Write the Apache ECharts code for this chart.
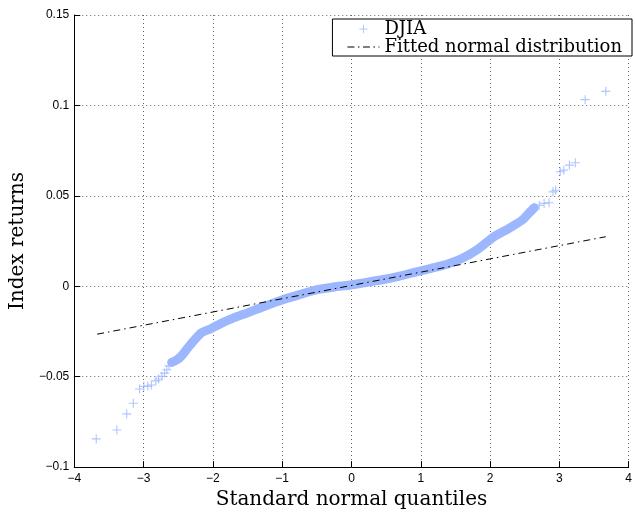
<!DOCTYPE html>
<html>
<head>
<meta charset="utf-8">
<script src="https://cdn.jsdelivr.net/npm/echarts@6/dist/echarts.min.js"></script>
<style>
  html, body { margin: 0; padding: 0; background: #fff; }
  #chart { width: 635px; height: 515px; }
</style>
</head>
<body>
<div id="chart"></div>
<script>
// 正态分位数 (x) 与 指数收益 (y)
const djiaQ = [
  -3.683, -3.385, -3.243, -3.148, -3.058, -2.996, -2.939, -2.888, -2.821,
  -2.783, -2.736, -2.697, -2.665, -2.632, -2.594, -2.523, -2.452,
  -2.36, -2.26, -2.17, -2.03, -1.88, -1.70, -1.50, -1.32, -1.15, -0.98,
  -0.75, -0.51, -0.25, -0.04, 0.20, 0.44, 0.68, 0.91, 1.15, 1.38, 1.60,
  1.83, 2.05, 2.28, 2.47,
  2.567, 2.638, 2.709, 2.780, 2.851, 2.908, 2.946, 3.013, 3.064, 3.145,
  3.230, 3.372, 3.670,
]
const djiaR = [
  -0.0844, -0.0795, -0.0706, -0.0647, -0.0568, -0.0554, -0.0552, -0.0546, -0.0523,
  -0.0513, -0.0498, -0.0480, -0.0462, -0.0440, -0.0421, -0.0408, -0.0385,
  -0.0340, -0.0295, -0.0258, -0.0235, -0.0205, -0.0175, -0.0147, -0.0120, -0.0096, -0.0073,
  -0.0046, -0.0020, -0.0004, 0.0006, 0.0020, 0.0036, 0.0055, 0.0077, 0.0099, 0.0122, 0.0155,
  0.0206, 0.0272, 0.0322, 0.0368,
  0.0407, 0.0434, 0.0447, 0.0458, 0.0462, 0.0522, 0.0531, 0.0633, 0.0642, 0.0670,
  0.0683, 0.1032, 0.1078,
]

// 拟合的正态分布直线
const fitQ = [-3.67, 3.67]
const fitR = [-0.0265, 0.0274]

const xTicks = [-4, 4, 1]
const yTicks = [-0.1, 0.15, 0.05]

const plus = 'path://M3.5,0h1v3.5h3.5v1h-3.5v3.5h-1v-3.5h-3.5v-1h3.5z'
// 图例里的点划线
const dashDot =
  'path://M0,0h7v1h-7zM10.5,0h1.5v1h-1.5zM15.5,0h7v1h-7zM26,0h1.5v1h-1.5zM31,0h1v1h-1z'
const blue = '#9db7ff'
const minus = (v) => String(+v.toFixed(2)).replace('-', '\u2212')

const points = djiaQ.map((q, i) => [q, djiaR[i]])
// 中间密集的部分用粗线连起来
const band = points.filter((p) => p[0] >= -2.6 && p[0] <= 2.65)

const myChart = echarts.init(document.getElementById('chart'))

const gridLine = { show: true, lineStyle: { color: '#666', type: [1, 3], width: 1 } }

const option = {
  animation: false,
  grid: { left: 71, right: 2, top: 15, bottom: 47 },
  legend: {
    data: [
      { name: 'DJIA', icon: plus },
      { name: 'Fitted normal distribution', icon: dashDot },
    ],
    orient: 'vertical',
    right: 3,
    top: 19,
    padding: [1, 10, 0, 15],
    itemGap: 0,
    itemWidth: 32,
    itemHeight: 8,
    borderColor: '#000',
    borderWidth: 1,
    backgroundColor: '#fff',
    textStyle: {
      fontFamily: 'DejaVu Serif',
      fontSize: 18,
      lineHeight: 16,
      color: '#000',
    },
  },
  xAxis: {
    type: 'value',
    min: xTicks[0],
    max: xTicks[1],
    interval: xTicks[2],
    name: 'Standard normal quantiles',
    nameLocation: 'middle',
    nameGap: 20,
    nameTextStyle: { fontFamily: 'DejaVu Serif', fontSize: 20, color: '#000' },
    axisLine: { onZero: false, lineStyle: { color: '#000', width: 1 } },
    axisTick: { inside: true, length: 6, lineStyle: { color: '#000' } },
    axisLabel: {
      formatter: minus,
      fontFamily: 'Liberation Sans',
      fontSize: 12,
      color: '#000',
      margin: 6,
    },
    splitLine: gridLine,
  },
  yAxis: {
    type: 'value',
    min: yTicks[0],
    max: yTicks[1],
    interval: yTicks[2],
    name: 'Index returns',
    nameLocation: 'middle',
    nameGap: 38,
    nameTextStyle: { fontFamily: 'DejaVu Serif', fontSize: 20, color: '#000' },
    axisLine: { show: true, onZero: false, lineStyle: { color: '#000', width: 1 } },
    axisTick: { show: true, inside: true, length: 6, lineStyle: { color: '#000' } },
    axisLabel: {
      formatter: minus,
      fontFamily: 'Liberation Sans',
      fontSize: 12,
      color: '#000',
      margin: 5,
    },
    splitLine: gridLine,
  },
  series: [
    {
      name: 'DJIA band',
      type: 'line',
      data: band,
      symbol: 'none',
      smooth: 0.2,
      silent: true,
      z: 1,
      lineStyle: { color: blue, width: 9, join: 'round', cap: 'round' },
    },
    {
      name: 'DJIA',
      type: 'scatter',
      data: points,
      symbol: plus,
      symbolSize: 9,
      z: 2,
      itemStyle: { color: blue },
    },
    {
      name: 'Fitted normal distribution',
      type: 'line',
      data: fitQ.map((q, i) => [q, fitR[i]]),
      symbol: 'none',
      z: 3,
      lineStyle: { color: '#000', width: 1, type: [7, 4, 1.5, 4] },
      itemStyle: { color: '#000' },
    },
  ],
}

myChart.setOption(option)
</script>
</body>
</html>
